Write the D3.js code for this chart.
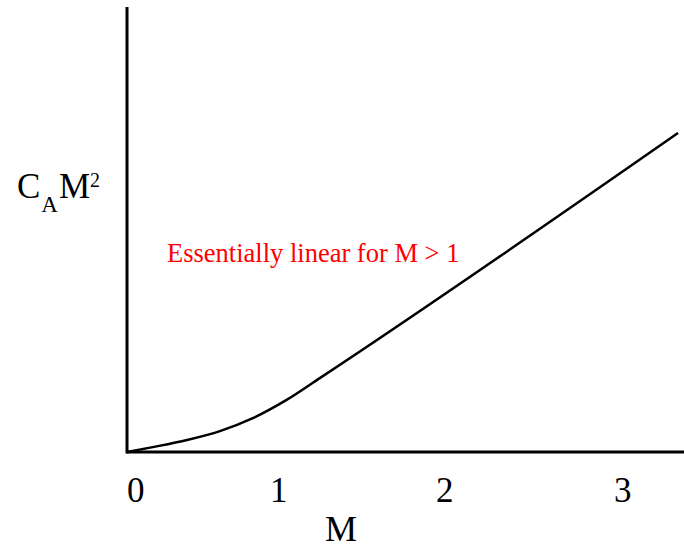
<!DOCTYPE html>
<html>
<head>
<meta charset="utf-8">
<script src="https://cdn.jsdelivr.net/npm/d3@7"></script>
<style>
  body { margin: 0; background: #fff; }
  text { font-family: "Liberation Serif", "Times New Roman", serif; }
</style>
</head>
<body>
<div id="chart"></div>
<script>
"use strict";

// sketch values
var xTicks = [0, 1, 2, 3];
var curveM = [0, 0.18, 0.42, 0.65, 0.88, 1.10, 1.30, 3.36];
var curveV = [0, 0.11, 0.27, 0.47, 0.76, 1.17, 1.66, 7.17];
var noteText = "Essentially linear for M > 1";

var width = 684, height = 547;

var svg = d3.select("#chart").append("svg")
    .attr("width", width)
    .attr("height", height);

// tick spacing in the drawing is not even, so use a piecewise scale
var x = d3.scaleLinear().domain([0, 1, 2, 3]).range([127, 270, 436, 614]);
var y = d3.scaleLinear().domain([0, 10]).range([452, 7]);

var pts = curveM.map(function(m, i) { return [m, curveV[i]]; });

var line = d3.line()
    .x(function(d) { return x(d[0]); })
    .y(function(d) { return y(d[1]); })
    .curve(d3.curveMonotoneX);

svg.append("path")
    .datum(pts)
    .attr("fill", "none")
    .attr("stroke", "#000")
    .attr("stroke-width", 2.5)
    .attr("d", line);

// axes
svg.append("line")
    .attr("x1", x(0)).attr("x2", width)
    .attr("y1", y(0)).attr("y2", y(0))
    .attr("stroke", "#000").attr("stroke-width", 3);
svg.append("line")
    .attr("x1", x(0)).attr("x2", x(0))
    .attr("y1", y(0) + 1.5).attr("y2", y(10))
    .attr("stroke", "#000").attr("stroke-width", 3);

// tick labels
svg.selectAll(".tick").data(xTicks).enter().append("text")
    .attr("class", "tick")
    .attr("x", function(d) { return x(d); })
    .attr("y", 502)
    .attr("font-size", 35)
    .text(function(d) { return d; });

svg.append("text")
    .attr("x", 341).attr("y", 541)
    .attr("text-anchor", "middle")
    .attr("font-size", 36)
    .text("M");

// y label  C_A M^2
var yl = svg.append("text").attr("x", 17).attr("y", 198).attr("font-size", 35);
yl.append("tspan").text("C");
yl.append("tspan").attr("font-size", 23).attr("dy", 14).attr("dx", 1).text("A");
yl.append("tspan").attr("dy", -14).attr("dx", 1).text("M");
yl.append("tspan").attr("font-size", 20).attr("dy", -11).text("2");

svg.append("text")
    .attr("x", 167).attr("y", 262)
    .attr("font-size", 26.5)
    .attr("fill", "#ff0000")
    .text(noteText);
</script>
</body>
</html>
